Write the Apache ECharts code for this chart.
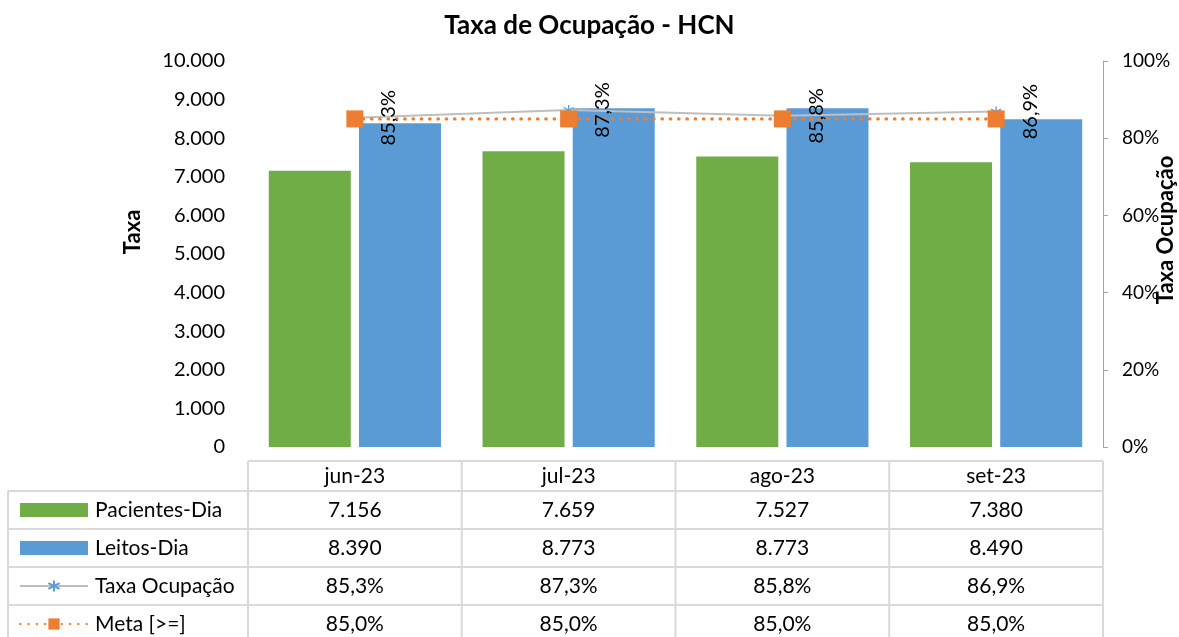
<!DOCTYPE html>
<html><head><meta charset="utf-8">
<script src="https://cdn.jsdelivr.net/npm/echarts@6/dist/echarts.min.js"></script>
<style>html,body{margin:0;padding:0;background:#fff}#c{width:1179px;height:637px}</style>
</head><body><div id="c"></div>
<script>
// ---- data ----
const categories = ['jun-23', 'jul-23', 'ago-23', 'set-23'];
const pacientesDia = [7156, 7659, 7527, 7380];
const leitosDia = [8390, 8773, 8773, 8490];
const taxaOcupacao = [0.853, 0.873, 0.858, 0.869];
const meta = [0.85, 0.85, 0.85, 0.85];
const seriesNames = ['Pacientes-Dia', 'Leitos-Dia', 'Taxa Ocupação', 'Meta [>=]'];

// ---- helpers ----
const FONT = 'Lato';
const fmtInt = n => String(Math.round(n)).replace(/\B(?=(\d{3})+(?!\d))/g, '.');
const fmtPct = v => (v * 100).toFixed(1).replace('.', ',') + '%';

const chart = echarts.init(document.getElementById('c'), null, {renderer: 'canvas'});
const asterisk = 'path://M5,0L5,10M0.7,2.5L9.3,7.5M9.3,2.5L0.7,7.5';

chart.setOption({
  animation: false,
  backgroundColor: '#fff',
  textStyle: {fontFamily: FONT},
  title: {
    text: 'Taxa de Ocupação - HCN', left: 'center', top: 8,
    textStyle: {fontFamily: FONT, fontSize: 26, fontWeight: 'bold', color: '#000'}
  },
  grid: {left: 248, right: 76, top: 61, bottom: 190, outerBoundsMode: 'none', containLabel: false},
  legend: {
    orient: 'vertical', left: 19, top: 498, padding: 0,
    itemWidth: 68, itemHeight: 14, itemGap: 14, selectedMode: false,
    textStyle: {fontFamily: FONT, fontSize: 21, color: '#000', lineHeight: 24, padding: [0, 0, 0, 2]},
    data: [
      {name: seriesNames[0], icon: 'rect'},
      {name: seriesNames[1], icon: 'rect'},
      {name: seriesNames[2]},
      {name: seriesNames[3]}
    ]
  },
  xAxis: {
    type: 'category', data: categories,
    axisLine: {show: false}, axisTick: {show: false}, axisLabel: {show: false}
  },
  yAxis: [
    {
      type: 'value', min: 0, max: 10000, interval: 1000,
      name: 'Taxa', nameLocation: 'middle', nameGap: 104, nameMoveOverlap: false,
      nameTextStyle: {fontFamily: FONT, fontSize: 22, fontWeight: 'bold', color: '#000', padding: [0, 0, 0, 44]},
      axisLine: {show: false}, axisTick: {show: false}, splitLine: {show: false},
      axisLabel: {fontFamily: FONT, fontSize: 20, color: '#000', margin: 23, formatter: v => fmtInt(v)}
    },
    {
      type: 'value', min: 0, max: 1, interval: 0.2, position: 'right',
      name: 'Taxa Ocupação', nameLocation: 'middle', nameGap: 52, nameMoveOverlap: false,
      nameTextStyle: {fontFamily: FONT, fontSize: 22, fontWeight: 'bold', color: '#000', padding: [0, 0, 0, 48]},
      axisLine: {show: true, lineStyle: {color: '#A6A6A6', width: 1}},
      axisTick: {show: true, length: 5, lineStyle: {color: '#A6A6A6'}},
      splitLine: {show: false},
      axisLabel: {fontFamily: FONT, fontSize: 19, color: '#000', margin: 19, formatter: v => Math.round(v * 100) + '%'}
    }
  ],
  series: [
    {
      name: seriesNames[0], type: 'bar', data: pacientesDia, barWidth: 82, barGap: '10%',
      itemStyle: {color: '#70AD47'}
    },
    {
      name: seriesNames[1], type: 'bar', data: leitosDia, barWidth: 82,
      itemStyle: {color: '#5B9BD5'}
    },
    {
      name: seriesNames[2], type: 'line', yAxisIndex: 1, data: taxaOcupacao,
      symbol: asterisk, symbolSize: 10, showAllSymbol: true,
      itemStyle: {color: 'rgba(0,0,0,0)', borderColor: '#5B9BD5', borderWidth: 1.3},
      lineStyle: {color: '#BFBFBF', width: 2},
      label: {
        show: true, position: 'inside', rotate: 90, offset: [0, 34],
        fontFamily: FONT, fontSize: 20, color: '#000',
        formatter: p => fmtPct(p.value)
      }
    },
    {
      name: seriesNames[3], type: 'line', yAxisIndex: 1, data: meta,
      symbol: 'rect', symbolSize: 17, showAllSymbol: true,
      itemStyle: {color: '#ED7D31'},
      lineStyle: {color: '#ED7D31', width: 3.2, type: [0.5, 7.8], cap: 'round'}
    }
  ]
});

// ---- data table (built from the arrays, columns aligned to the category axis) ----
function buildTable() {
  const cx = categories.map(c => chart.convertToPixel({xAxisIndex: 0}, c));
  const band = cx[1] - cx[0];
  const bounds = [cx[0] - band / 2].concat(cx.map(x => x + band / 2));
  const tableLeft = 8;
  const rows = [461, 491, 529, 567, 605, 643];
  const lineStyle = {stroke: '#D9D9D9', lineWidth: 2};
  const els = [];
  els.push({type: 'line', silent: true, shape: {x1: bounds[0], y1: rows[0], x2: bounds[4], y2: rows[0]}, style: lineStyle});
  for (let r = 1; r < rows.length; r++) {
    els.push({type: 'line', silent: true, shape: {x1: tableLeft, y1: rows[r], x2: bounds[4], y2: rows[r]}, style: lineStyle});
  }
  els.push({type: 'line', silent: true, shape: {x1: tableLeft, y1: rows[1], x2: tableLeft, y2: rows[5]}, style: lineStyle});
  bounds.forEach(b => els.push({type: 'line', silent: true, shape: {x1: b, y1: rows[0], x2: b, y2: rows[5]}, style: lineStyle}));
  const txt = (s, x, y) => ({type: 'text', silent: true, x, y,
    style: {text: s, fontFamily: FONT, fontSize: 21, fill: '#000', align: 'center', verticalAlign: 'middle'}});
  categories.forEach((c, i) => els.push(txt(c, cx[i], (rows[0] + rows[1]) / 2)));
  const tableRows = [pacientesDia.map(fmtInt), leitosDia.map(fmtInt), taxaOcupacao.map(fmtPct), meta.map(fmtPct)];
  tableRows.forEach((vals, r) => {
    const y = (rows[r + 1] + rows[r + 2]) / 2;
    vals.forEach((v, i) => els.push(txt(v, cx[i], y)));
  });
  chart.setOption({graphic: {elements: els}});
}
buildTable();
</script>
</body></html>
